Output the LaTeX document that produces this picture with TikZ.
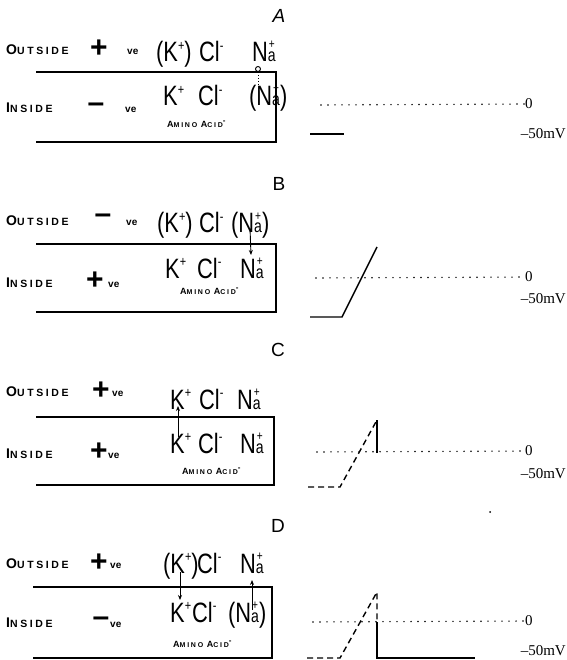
\documentclass[tikz,border=0pt]{standalone}
\usepackage{fontspec}
\usepackage{graphicx}
\setmainfont{Liberation Serif}
\newfontfamily\handf{Liberation Sans}
\newfontfamily\handls[LetterSpace=25]{Liberation Sans}
\usetikzlibrary{arrows.meta}
\newcommand\ionf[1]{\scalebox{0.78}[1]{\handf\fontsize{28}{28}\selectfont #1}}
\newcommand\sgn[1]{\raisebox{11.5pt}{\fontsize{14}{14}\selectfont #1}}
\newcommand\sgnhi[1]{\raisebox{13pt}{\fontsize{13}{13}\selectfont #1}}
\newcommand\Kp{K\sgn{+}}
\newcommand\Clm{Cl\sgn{-}}
\newcommand\Nap{N\makebox[10pt][c]{\fontsize{18}{18}\selectfont a}\llap{\makebox[10pt][c]{\sgnhi{+}}}}
\newcommand\capword[2]{{\handls\bfseries\fontsize{14}{14}\selectfont #1}{\handls\bfseries\fontsize{10.5}{10.5}\selectfont #2}}
\newcommand\amino{{\handls\bfseries\fontsize{9}{9}\selectfont A}{\handls\bfseries\fontsize{7}{7}\selectfont MINO\ }{\handls\bfseries\fontsize{9}{9}\selectfont A}{\handls\bfseries\fontsize{7}{7}\selectfont CID}\raisebox{4pt}{\handf\bfseries\fontsize{8}{8}\selectfont -}}
\tikzset{
 txt/.style={inner sep=0pt, anchor=base west},
 sign/.style={inner sep=0pt, font=\handf\bfseries\fontsize{30}{30}\selectfont},
 ve/.style={inner sep=0pt, anchor=base west, font=\handf\bfseries\fontsize{10}{10}\selectfont},
 panel/.style={inner sep=0pt, font=\handf\fontsize{19}{19}\selectfont},
 mv/.style={inner sep=0pt, anchor=base east, font=\fontsize{15}{15}\selectfont},
 zero/.style={inner sep=0pt, anchor=west, font=\fontsize{15}{15}\selectfont},
 membrane/.style={line width=1.3pt},
 dots/.style={line width=1.6pt, line cap=round, dash pattern=on 0pt off 7pt},
 trace/.style={line width=1.4pt},
 dtrace/.style={line width=1.4pt, dash pattern=on 6pt off 4pt},
 flow/.style={line width=0.9pt, -{Stealth[length=5pt,width=4pt]}},
}
\begin{document}
\begin{tikzpicture}[x=1pt,y=-1pt]
\useasboundingbox (0,0) rectangle (566,660);
% ---------------- Panel A ----------------
\node[panel, font=\handf\itshape\fontsize{19}{19}\selectfont] (labA) at (279,16) {A};
\node[txt] (outA) at (6,55) {\capword{O}{UTSIDE}};
\node[sign] (osA) at (99,49) {+};
\node[ve] (ovA) at (127,55) {ve};
\node[txt] (KoA) at (156,62) {\ionf{(\Kp)}};
\node[txt] (CoA) at (199,62) {\ionf{\Clm}};
\node[txt] (NoA) at (252,62) {\ionf{\Nap}};
\draw[membrane] (36,72) -- (276,72) -- (276,142) -- (36,142);
\node[txt] (inA) at (6,113) {\capword{I}{NSIDE}};
\node[sign] (isA) at (96,108) {\textendash};
\node[ve] (ivA) at (125,113) {ve};
\node[txt] (KiA) at (163,106) {\ionf{\Kp}};
\node[txt] (CiA) at (198,106) {\ionf{\Clm}};
\node[txt] (NiA) at (249,106) {\ionf{(\Nap)}};
\node[txt] (amA) at (167,128) {\amino};
\node[circle, draw, line width=0.9pt, inner sep=0pt, minimum size=5pt] (poreA) at (258,69) {};
\coordinate (poreAend) at (258,84);
\draw[line width=0.8pt, dash pattern=on 1.5pt off 1.5pt] (poreA.south) -- (poreAend);
\coordinate (dotA) at (321,105);
\node[zero] (zA) at (525,104) {0};
\draw[dots] (dotA) -- (zA.west);
\node[mv] (mvA) at (566,139) {\textendash 50mV};
\coordinate (tA1) at (310,134);
\coordinate (tA2) at (344,134);
\draw[trace] (tA1) -- (tA2);
% ---------------- Panel B ----------------
\node[panel] (labB) at (279,184) {B};
\node[txt] (outB) at (6,225) {\capword{O}{UTSIDE}};
\node[sign] (osB) at (103,219) {\textendash};
\node[ve] (ovB) at (126,225) {ve};
\node[txt] (KoB) at (157,233) {\ionf{(\Kp)}};
\node[txt] (CoB) at (199,233) {\ionf{\Clm}};
\node[txt] (NoB) at (231,233) {\ionf{(\Nap)}};
\draw[membrane] (36,244) -- (276,244) -- (276,312) -- (36,312);
\node[txt] (inB) at (6,287) {\capword{I}{NSIDE}};
\node[sign] (isB) at (95,281) {+};
\node[ve] (ivB) at (108,287) {ve};
\node[txt] (KiB) at (165,278) {\ionf{\Kp}};
\node[txt] (CiB) at (197,278) {\ionf{\Clm}};
\node[txt] (NiB) at (240,278) {\ionf{\Nap}};
\node[txt] (amB) at (180,294) {\amino};
\coordinate (aB1) at (250,228);
\coordinate (aB2) at (251,255);
\draw[flow] (aB1) -- (aB2);
\coordinate (dotB) at (316,278);
\node[zero] (zB) at (525,277) {0};
\draw[dots] (dotB) -- (zB.west);
\node[mv] (mvB) at (566,303) {\textendash 50mV};
\coordinate (tB1) at (310,317);
\coordinate (tB2) at (342,317);
\coordinate (tB3) at (377,247);
\draw[trace] (tB1) -- (tB2) -- (tB3);
% ---------------- Panel C ----------------
\node[panel] (labC) at (278,350) {C};
\node[txt] (outC) at (6,396) {\capword{O}{UTSIDE}};
\node[sign] (osC) at (101,391) {+};
\node[ve] (ovC) at (112,396) {ve};
\node[txt] (KoC) at (170,409) {\ionf{\Kp}};
\node[txt] (CoC) at (199,409) {\ionf{\Clm}};
\node[txt] (NoC) at (237,409) {\ionf{\Nap}};
\draw[membrane] (36,417) -- (274,417) -- (274,485) -- (36,485);
\node[txt] (inC) at (6,458) {\capword{I}{NSIDE}};
\node[sign] (isC) at (99,452) {+};
\node[ve] (ivC) at (108,458) {ve};
\node[txt] (KiC) at (170,453) {\ionf{\Kp}};
\node[txt] (CiC) at (198,453) {\ionf{\Clm}};
\node[txt] (NiC) at (240,453) {\ionf{\Nap}};
\node[txt] (amC) at (182,474) {\amino};
\coordinate (aC1) at (178,437);
\coordinate (aC2) at (178,406);
\draw[flow] (aC1) -- (aC2);
\coordinate (dotC) at (317,452);
\node[zero] (zC) at (525,451) {0};
\draw[dots] (dotC) -- (zC.west);
\node[mv] (mvC) at (566,478) {\textendash 50mV};
\coordinate (tC1) at (308,487);
\coordinate (tC2) at (340,487);
\coordinate (tC3) at (377,420);
\coordinate (tC4) at (377,453);
\draw[dtrace] (tC1) -- (tC2) -- (tC3);
\draw[trace] (tC3) -- (tC4);
\fill (490,512) circle (1pt);
% ---------------- Panel D ----------------
\node[panel] (labD) at (278,526) {D};
\node[txt] (outD) at (6,568) {\capword{O}{UTSIDE}};
\node[sign] (osD) at (99,563) {+};
\node[ve] (ovD) at (110,568) {ve};
\node[txt] (KoD) at (163,573) {\ionf{(\Kp)}};
\node[txt] (CoD) at (197,573) {\ionf{\Clm}};
\node[txt] (NoD) at (240,573) {\ionf{\Nap}};
\draw[membrane] (33,587) -- (272,587) -- (272,658) -- (33,658);
\node[txt] (inD) at (6,627) {\capword{I}{NSIDE}};
\node[sign] (isD) at (101,622) {\textendash};
\node[ve] (ivD) at (110,627) {ve};
\node[txt] (KiD) at (170,622) {\ionf{\Kp}};
\node[txt] (CiD) at (192,622) {\ionf{\Clm}};
\node[txt] (NiD) at (228,622) {\ionf{(\Nap)}};
\node[txt] (amD) at (173,647) {\amino};
\coordinate (aD1) at (180,572);
\coordinate (aD2) at (180,600);
\draw[flow] (aD1) -- (aD2);
\coordinate (aD3) at (252,610);
\coordinate (aD4) at (252,580);
\draw[flow] (aD3) -- (aD4);
\coordinate (dotD) at (313,622);
\node[zero] (zD) at (525,621) {0};
\draw[dots] (dotD) -- (zD.west);
\node[mv] (mvD) at (566,655) {\textendash 50mV};
\coordinate (tD1) at (307,658);
\coordinate (tD2) at (340,658);
\coordinate (tD3) at (377,592);
\coordinate (tD4) at (377,622);
\coordinate (tD5) at (377,658);
\coordinate (tD6) at (475,658);
\draw[dtrace] (tD1) -- (tD2) -- (tD3) -- (tD4);
\draw[trace] (tD4) -- (tD5) -- (tD6);
\end{tikzpicture}
\end{document}
